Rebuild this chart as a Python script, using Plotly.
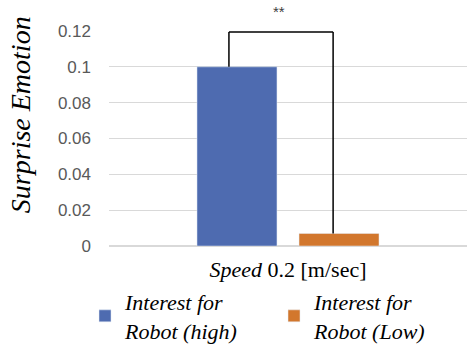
import plotly.graph_objects as go

categories = ["<i>Speed</i> 0.2 [m/sec]"]
series_names = ["<i>Interest for<br>Robot (high)</i>", "<i>Interest for<br>Robot (Low)</i>"]
high_values = [0.1]
low_values = [0.007]
colors = ["#4e6bb0", "#d2772d"]
y_ticks = [0, 0.02, 0.04, 0.06, 0.08, 0.1, 0.12]
y_tick_labels = ["0", "0.02", "0.04", "0.06", "0.08", "0.1", "0.12"]
y_title = "<i>Surprise Emotion</i>"

SERIF = "Liberation Serif"
SANS = "Liberation Sans"

fig = go.Figure()
fig.add_trace(go.Bar(x=categories, y=high_values, name=series_names[0], marker_color=colors[0]))
fig.add_trace(go.Bar(x=categories, y=low_values, name=series_names[1], marker_color=colors[1]))

# significance bracket
bx0, bx1, btop = -0.165, 0.126, 0.1195
fig.add_shape(type="line", x0=bx0, x1=bx0, y0=high_values[0], y1=btop, xref="x", yref="y",
              line=dict(color="black", width=1.5))
fig.add_shape(type="line", x0=bx0, x1=bx1, y0=btop, y1=btop, xref="x", yref="y",
              line=dict(color="black", width=1.5))
fig.add_shape(type="line", x0=bx1, x1=bx1, y0=btop, y1=low_values[0], xref="x", yref="y",
              line=dict(color="black", width=1.5))
fig.add_annotation(x=-0.025, y=btop, xref="x", yref="y", text="**", showarrow=False,
                   yshift=20, font=dict(size=15, color="#404040", family=SANS))

# y-axis title (placed as in the reference, slightly above the plot-area centre)
fig.add_annotation(x=-0.245, y=0.61, xref="paper", yref="paper", text=y_title, textangle=-90,
                   showarrow=False, xanchor="center", yanchor="middle",
                   font=dict(size=28, family=SERIF, color="black"))

fig.update_layout(
    width=471, height=355,
    margin=dict(l=109, r=4, t=31, b=108),
    plot_bgcolor="white", paper_bgcolor="white",
    bargap=0.43, bargroupgap=0.216,
    showlegend=True,
    legend=dict(orientation="h", x=-0.067, xanchor="left", y=-0.485, yanchor="bottom",
                entrywidth=144, font=dict(size=22, family=SERIF, color="black"),
                bgcolor="rgba(0,0,0,0)", itemwidth=30, tracegroupgap=0),
)
fig.update_xaxes(type="category", range=[-0.5, 0.5], showgrid=False, showline=False, ticks="",
                 ticklabelstandoff=8,
                 tickfont=dict(size=22, family=SERIF, color="black"))
fig.update_yaxes(range=[0, 0.12], tickvals=y_ticks, ticktext=y_tick_labels,
                 showgrid=True, gridcolor="#d9d9d9", gridwidth=1,
                 zeroline=True, zerolinecolor="#d9d9d9", zerolinewidth=1.5,
                 tickfont=dict(size=17, family=SANS, color="#595959"), ticklabelstandoff=17)

fig.write_html("out.html", config={"displayModeBar": False},
               post_script="document.body.style.margin='0';document.body.style.padding='0';")
